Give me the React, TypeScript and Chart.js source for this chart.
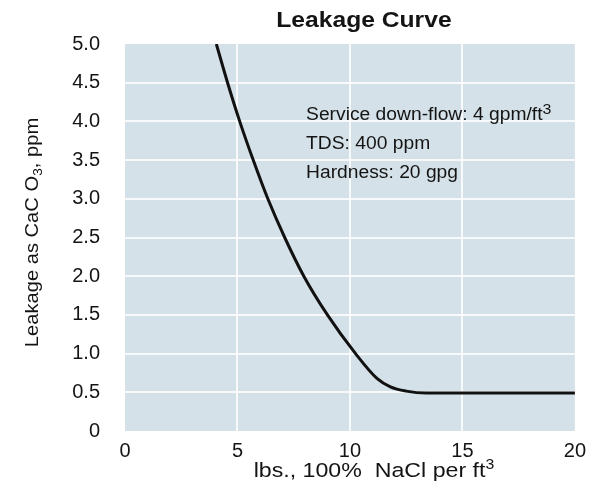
import { useEffect, useRef } from "react";
import { Chart, registerables } from "chart.js";

Chart.register(...registerables);

// ---- data ----
const saltDose = [4.06, 4.56, 5.1, 5.7, 6.35, 7.1, 7.95, 9.0, 10.25, 11.2, 11.8, 12.5, 13.4, 16.0, 20.0];
const leakage = [5.0, 4.5, 4.0, 3.5, 3.0, 2.5, 2.0, 1.5, 1.0, 0.68, 0.57, 0.515, 0.49, 0.49, 0.49];
const xTickValues = [0, 5, 10, 15, 20];
const yTickValues = [0, 0.5, 1.0, 1.5, 2.0, 2.5, 3.0, 3.5, 4.0, 4.5, 5.0];
const chartTitle = "Leakage Curve";
const xTitleMain = "lbs., 100%  NaCl per ft";
const xTitleSup = "3";
const yTitleMain = "Leakage as CaC O";
const yTitleSub = "3";
const yTitleEnd = ", ppm";
const noteLines = ["Service down-flow: 4 gpm/ft", "TDS: 400 ppm", "Hardness: 20 gpg"];
const noteSup = "3";

const FONT = "'Liberation Sans', Arial, Helvetica, sans-serif";

type Part = { t: string; size: number; bold?: boolean; dy?: number };

function fontOf(p: Part) {
  return `${p.bold ? "bold " : ""}${p.size}px ${FONT}`;
}

function drawParts(
  ctx: CanvasRenderingContext2D,
  parts: Part[],
  x: number,
  y: number,
  align: "left" | "center",
  sx: number,
  rotate = 0
) {
  ctx.save();
  ctx.translate(x, y);
  if (rotate) ctx.rotate(rotate);
  ctx.scale(sx, 1);
  ctx.textAlign = "left";
  ctx.textBaseline = "alphabetic";
  ctx.fillStyle = "#141414";
  let total = 0;
  const widths = parts.map((p) => {
    ctx.font = fontOf(p);
    const w = ctx.measureText(p.t).width;
    total += w;
    return w;
  });
  let cx = align === "center" ? -total / 2 : 0;
  parts.forEach((p, i) => {
    ctx.font = fontOf(p);
    ctx.fillText(p.t, cx, p.dy || 0);
    cx += widths[i];
  });
  ctx.restore();
}

const plotBackground = {
  id: "plotBackground",
  beforeDraw(chart: any) {
    const { ctx, chartArea } = chart;
    ctx.save();
    ctx.fillStyle = "#d5e1e8";
    ctx.fillRect(chartArea.left, chartArea.top, chartArea.right - chartArea.left, chartArea.bottom - chartArea.top);
    ctx.restore();
  },
};

const textPlugin = {
  id: "textPlugin",
  afterDraw(chart: any) {
    const { ctx, chartArea, scales } = chart;
    const cx = (chartArea.left + chartArea.right) / 2;
    const cy = (chartArea.top + chartArea.bottom) / 2;
    // title
    drawParts(ctx, [{ t: chartTitle, size: 22, bold: true }], cx + 14, chartArea.top - 17, "center", 1.12);
    // x title
    drawParts(
      ctx,
      [
        { t: xTitleMain, size: 20.5 },
        { t: xTitleSup, size: 14, dy: -8 },
      ],
      cx + 24,
      chartArea.bottom + 46,
      "center",
      1.13
    );
    // y title (rotated)
    drawParts(
      ctx,
      [
        { t: yTitleMain, size: 19 },
        { t: yTitleSub, size: 13, dy: 4 },
        { t: yTitleEnd, size: 19 },
      ],
      38,
      cy - 5,
      "center",
      1.06,
      -Math.PI / 2
    );
    // notes
    const nx = scales.x.getPixelForValue(8.05);
    const ny = scales.y.getPixelForValue(4.02);
    noteLines.forEach((line, i) => {
      const parts: Part[] = [{ t: line, size: 17.5 }];
      if (i === 0) parts.push({ t: noteSup, size: 14.5, dy: -6 });
      drawParts(ctx, parts, nx, ny + i * 29, "left", 1.1);
    });
  },
};

export default function App() {
  const ref = useRef<HTMLCanvasElement | null>(null);

  useEffect(() => {
    if (!ref.current) return;
    const points = saltDose.map((x, i) => ({ x, y: leakage[i] }));
    const chart = new Chart(ref.current, {
      type: "line",
      data: {
        datasets: [
          {
            data: points,
            borderColor: "#111111",
            borderWidth: 3,
            pointRadius: 0,
            fill: false,
            cubicInterpolationMode: "monotone",
          },
        ],
      },
      options: {
        animation: false,
        responsive: false,
        devicePixelRatio: 1,
        layout: { padding: { top: 44, right: 17, left: 0, bottom: 0 } },
        plugins: { legend: { display: false }, title: { display: false }, tooltip: { enabled: false } },
        scales: {
          x: {
            type: "linear",
            min: 0,
            max: 20,
            afterBuildTicks: (scale: any) => {
              scale.ticks = xTickValues.map((v) => ({ value: v }));
            },
            afterFit: (scale: any) => {
              scale.height = 64;
            },
            ticks: {
              padding: 8,
              color: "#141414",
              font: { family: FONT, size: 20 },
              callback: (v: any) => String(v),
            },
            grid: {
              drawTicks: false,
              lineWidth: 2,
              color: (c: any) =>
                c.tick && (c.tick.value === 0 || c.tick.value === 20) ? "rgba(0,0,0,0)" : "rgba(255,255,255,0.8)",
            },
            border: { display: false },
          },
          y: {
            type: "linear",
            min: 0,
            max: 5,
            afterBuildTicks: (scale: any) => {
              scale.ticks = yTickValues.map((v) => ({ value: v }));
            },
            afterFit: (scale: any) => {
              scale.width = 125;
            },
            ticks: {
              padding: 25,
              color: "#141414",
              font: { family: FONT, size: 20 },
              callback: (v: any) => (Number(v) === 0 ? "0" : Number(v).toFixed(1)),
            },
            grid: {
              drawTicks: false,
              lineWidth: 2,
              color: (c: any) =>
                c.tick && (c.tick.value === 0 || c.tick.value === 5) ? "rgba(0,0,0,0)" : "rgba(255,255,255,0.8)",
            },
            border: { display: false },
          },
        },
      },
      plugins: [plotBackground, textPlugin],
    } as any);
    return () => chart.destroy();
  }, []);

  return (
    <canvas
      ref={ref}
      width={594}
      height={495}
      style={{ position: "fixed", left: 0, top: 0, width: 594, height: 495, background: "#ffffff" }}
    />
  );
}
